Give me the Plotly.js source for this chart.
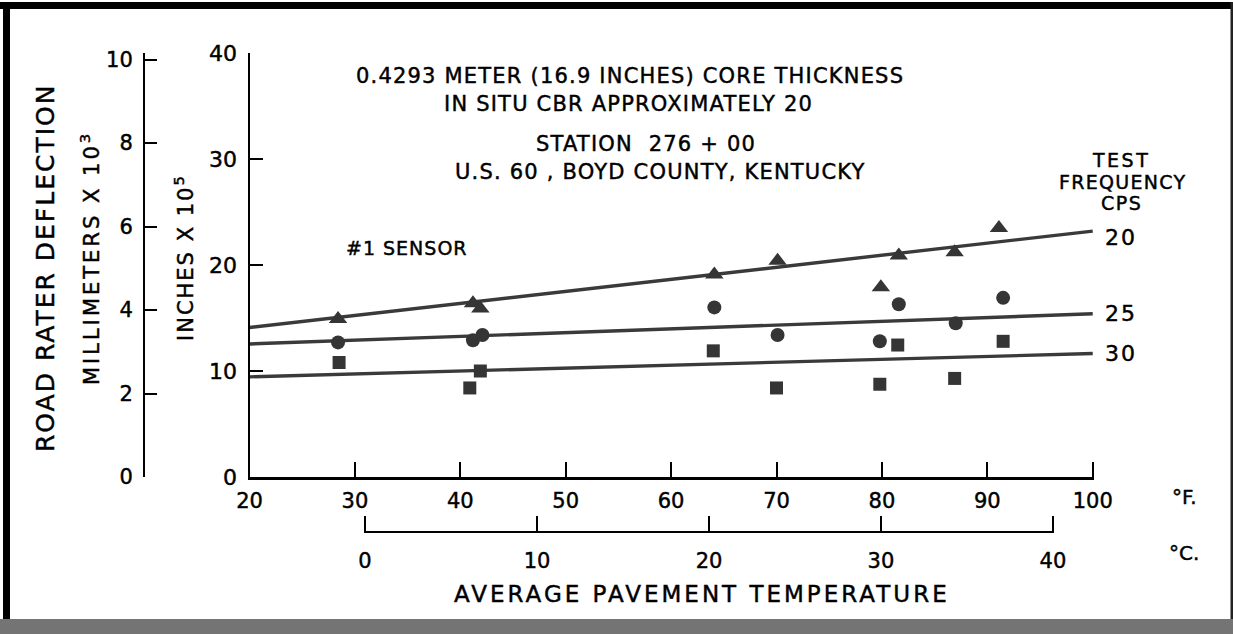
<!DOCTYPE html>
<html><head><meta charset="utf-8">
<script src="https://cdn.plot.ly/plotly-3.0.1.min.js"></script>
<style>
html,body{margin:0;padding:0;background:#fff;}
#chart{width:1233px;height:634px;}
#chart svg text{stroke:#000;stroke-width:0.45px;}
</style>
</head><body><div id="chart"></div>
<script>
// ---- data ----
const tempF20 = [28.4, 41.2, 41.9, 64.1, 70.1, 79.9, 81.6, 86.9, 91.1];
const defl20  = [14.9, 16.4, 15.9, 19.1, 20.4, 17.9, 20.9, 21.2, 23.5];
const tempF25 = [28.4, 41.2, 42.1, 64.1, 70.1, 79.8, 81.6, 87.0, 91.5];
const defl25  = [12.7, 12.9, 13.4, 16.0, 13.4, 12.8, 16.3, 14.5, 16.9];
const tempF30 = [28.5, 40.9, 41.9, 64.0, 70.0, 79.8, 81.5, 86.9, 91.5];
const defl30  = [10.8, 8.4, 10.0, 11.9, 8.4, 8.75, 12.45, 9.3, 12.8];
const fitTemps = [20, 100];
const fit20 = [14.1, 23.2];
const fit25 = [12.55, 15.4];
const fit30 = [9.45, 11.65];
const freqLabels = ['20', '25', '30'];
const inchTicks = [0, 10, 20, 30, 40];
const mmTicks = [0, 2, 4, 6, 8, 10];
const fTicks = [20, 30, 40, 50, 60, 70, 80, 90, 100];
const cTicks = [0, 10, 20, 30, 40];
const titleLines = ['0.4293 METER (16.9 INCHES) CORE THICKNESS', 'IN SITU CBR APPROXIMATELY 20',
                    'STATION  276 + 00', 'U.S. 60 , BOYD COUNTY, KENTUCKY'];
const MM_PER_IN = 0.254; // inches x 10^5 -> millimetres x 10^3

// ---- geometry helpers (pixel -> paper) ----
const W = 1233, H = 634, L = 10, R = 139, T = 53, B = 14;
const pw = W - L - R, ph = H - T - B;
const px = v => (v - L) / pw;
const py = v => (H - B - v) / ph;
const FONT = 'DejaVu Sans';
const INK = '#000';
const MARK = '#353535';

const fits = [fit20, fit25, fit30];
const traces = [];
fits.forEach((f) => {
  traces.push({x: fitTemps, y: f, mode: 'lines', line: {color: '#3a3a3a', width: 3.4}, hoverinfo: 'skip', showlegend: false});
});
traces.push({x: tempF20, y: defl20, mode: 'markers', marker: {symbol: 'triangle-up', size: 16, color: MARK}, showlegend: false});
traces.push({x: tempF25, y: defl25, mode: 'markers', marker: {symbol: 'circle', size: 14, color: MARK}, showlegend: false});
traces.push({x: tempF30, y: defl30, mode: 'markers', marker: {symbol: 'square', size: 13, color: MARK}, showlegend: false});
// carriers for the secondary scales (drawn invisibly so the axes exist)
traces.push({x: fitTemps, y: fit20.map(v => v * MM_PER_IN), yaxis: 'y2', mode: 'none', hoverinfo: 'skip', showlegend: false});
traces.push({x: cTicks, y: inchTicks, xaxis: 'x2', mode: 'none', hoverinfo: 'skip', showlegend: false});

const tf = s => ({family: FONT, size: s, color: INK});
const sp = (t, ls) => '<span style="letter-spacing:' + ls + 'px">' + t + '</span>';
const ann = (text, x, y, size, extra) => Object.assign({text, x: px(x), y: py(y), xref: 'paper', yref: 'paper', showarrow: false, font: tf(size), xanchor: 'center', yanchor: 'middle'}, extra || {});

const annotations = [
  ann(sp(titleLines[0], 1.2), 630, 76, 21),
  ann(sp(titleLines[1], 1.2), 628, 104, 21),
  ann(sp(titleLines[2], 1.2), 646, 144, 21),
  ann(sp(titleLines[3], 1.2), 660, 172, 21),
  ann(sp('#1 SENSOR', 1), 407, 248, 19),
  ann(sp('TEST', 2.5), 1121, 160, 19),
  ann(sp('FREQUENCY', 1.3), 1122, 182, 19),
  ann(sp('CPS', 1.5), 1121, 203, 19),
  ann('°F.', 1184, 497, 20),
  ann('°C.', 1184, 553, 20),
  ann(sp('AVERAGE PAVEMENT TEMPERATURE', 3), 702, 594, 23),
  ann(sp('ROAD RATER DEFLECTION', 2), 45, 268, 25, {textangle: -90}),
  ann(sp('MILLIMETERS X 10<sup>3</sup>', 3), 90, 258, 21, {textangle: -90}),
  ann(sp('INCHES X 10<sup>5</sup>', 2), 184, 258, 21, {textangle: -90})
];
fits.forEach((f, i) => {
  annotations.push({text: sp(freqLabels[i], 2), x: fitTemps[1], y: f[1], xref: 'x', yref: 'y', showarrow: false,
    xanchor: 'left', yanchor: 'middle', xshift: 10, yshift: i === 0 ? -6 : 0, font: tf(22)});
});

const shapes = [
  {type: 'rect', xref: 'paper', yref: 'paper', x0: px(0), x1: px(1233), y0: py(2), y1: py(9), fillcolor: '#000', line: {width: 0}},
  {type: 'rect', xref: 'paper', yref: 'paper', x0: px(3), x1: px(10), y0: py(2), y1: py(634), fillcolor: '#000', line: {width: 0}},
  {type: 'rect', xref: 'paper', yref: 'paper', x0: px(1230.5), x1: px(1233), y0: py(2), y1: py(619), fillcolor: '#222', line: {width: 0}},
  {type: 'rect', xref: 'paper', yref: 'paper', x0: px(0), x1: px(1233), y0: py(619), y1: py(634), fillcolor: '#747474', line: {width: 0}}
];

const axBase = {showgrid: false, zeroline: false, showline: true, linecolor: INK, tickcolor: INK, ticks: 'inside', tickwidth: 2, fixedrange: true};

const layout = {
  width: W, height: H,
  margin: {l: L, r: R, t: T, b: B, pad: 0},
  paper_bgcolor: '#fff', plot_bgcolor: 'rgba(0,0,0,0)',
  showlegend: false,
  xaxis: Object.assign({}, axBase, {domain: [px(249.5), 1], range: [20, 100.12], tickvals: fTicks, ticklen: 15, linewidth: 3,
    anchor: 'y', tickfont: tf(21), ticklabelstandoff: 3}),
  yaxis: Object.assign({}, axBase, {domain: [py(477), 1], range: [0, 40], tickvals: inchTicks, ticklen: 13, linewidth: 2,
    anchor: 'x', tickfont: tf(22), ticklabelstandoff: 6}),
  yaxis2: Object.assign({}, axBase, {overlaying: 'y', anchor: 'free', position: px(144), side: 'left',
    range: [0, 40 * MM_PER_IN], tickvals: mmTicks, ticklen: 12, linewidth: 2, tickfont: tf(21), ticklabelstandoff: 6}),
  xaxis2: Object.assign({}, axBase, {anchor: 'free', position: py(532), domain: [px(364), px(1054)], side: 'bottom',
    range: [-0.06, 40.06], tickvals: cTicks, ticklen: 15, linewidth: 2, tickfont: tf(21), ticklabelstandoff: 10}),
  annotations, shapes
};

Plotly.newPlot('chart', traces, layout, {displayModeBar: false, staticPlot: true});
</script>
</body></html>
